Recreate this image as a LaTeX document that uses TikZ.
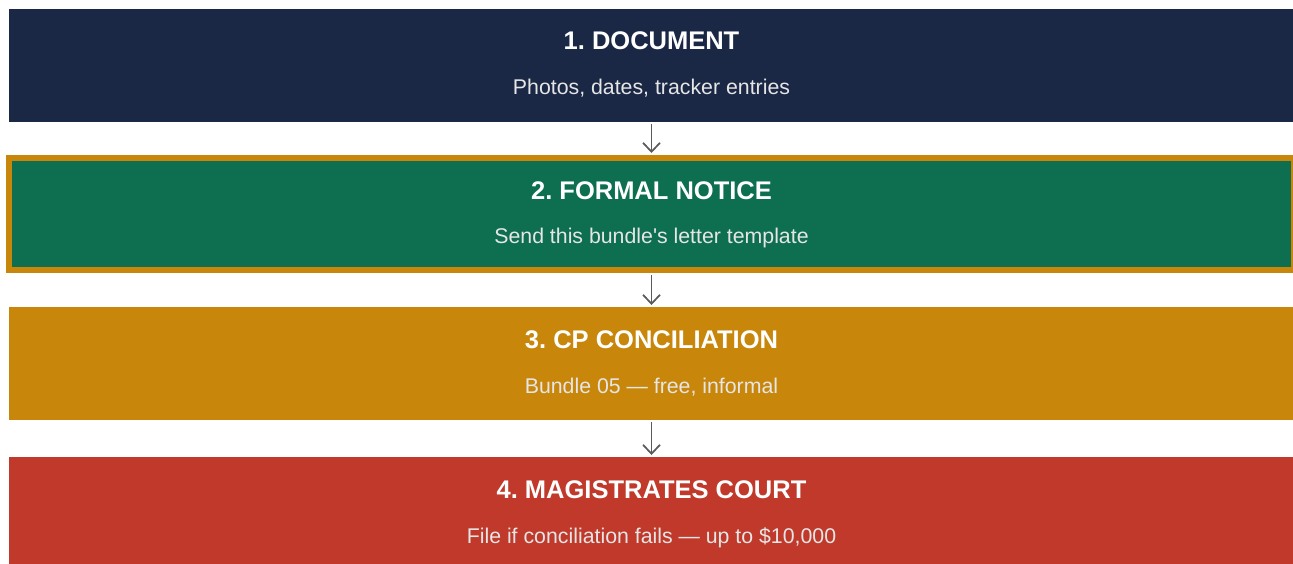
\documentclass[tikz,border=0pt]{standalone}
\usepackage{fontspec}
\setmainfont{Liberation Sans}[Ligatures=TeXOff]
\usetikzlibrary{arrows.meta}
\definecolor{navy}{HTML}{1B2845}
\definecolor{green}{HTML}{0D6E50}
\definecolor{gold}{HTML}{C8860A}
\definecolor{red}{HTML}{C0392B}
\definecolor{sub}{HTML}{E6E6E6}
\definecolor{arrowgray}{HTML}{5A5A5A}
\tikzset{
  box/.style={rectangle, inner sep=0pt, outer sep=0pt, minimum width=1285pt, minimum height=113pt},
  title/.style={anchor=base, text=white, font=\fontsize{25.5}{30}\selectfont\bfseries, inner sep=0pt},
  subtitle/.style={anchor=base, text=sub, font=\fontsize{21.3}{25}\selectfont, inner sep=0pt},
  arr/.style={draw=arrowgray, line width=1.7pt, -{Straight Barb[length=9pt,width=17pt,line width=1.7pt]}, shorten <=2pt, shorten >=2pt}
}
\begin{document}
\frenchspacing
\begin{tikzpicture}[x=1pt,y=-1pt]
\useasboundingbox (0,0) rectangle (1293,563);
\clip (0,0) rectangle (1293,563);
\fill[white] (0,0) rectangle (1293,563);
\node[box, fill=navy] (b1) at (651.5,65.5) {};
\node[box, fill=green, draw=gold, line width=6pt, minimum height=112pt, outer sep=3pt] (b2) at (651.5,214) {};
\node[box, fill=gold] (b3) at (651.5,363.5) {};
\node[box, fill=red] (b4) at (651.5,513.5) {};
\node[title] (t1) at (651.5,49.5) {1. DOCUMENT};
\node[subtitle] (s1) at (651.5,94) {Photos, dates, tracker entries};
\node[title] (t2) at (651.5,199) {2. FORMAL NOTICE};
\node[subtitle] (s2) at (651.5,243.5) {Send this bundle's letter template};
\node[title] (t3) at (651.5,348.5) {3. CP CONCILIATION};
\node[subtitle] (s3) at (651.5,393.3) {Bundle 05 — free, informal};
\node[title] (t4) at (651.5,498.5) {4. MAGISTRATES COURT};
\node[subtitle] (s4) at (651.5,543) {File if conciliation fails — up to \$10,000};
\draw[arr] (b1.south) -- (b2.north);
\draw[arr] (b2.south) -- (b3.north);
\draw[arr] (b3.south) -- (b4.north);
\end{tikzpicture}
\end{document}
